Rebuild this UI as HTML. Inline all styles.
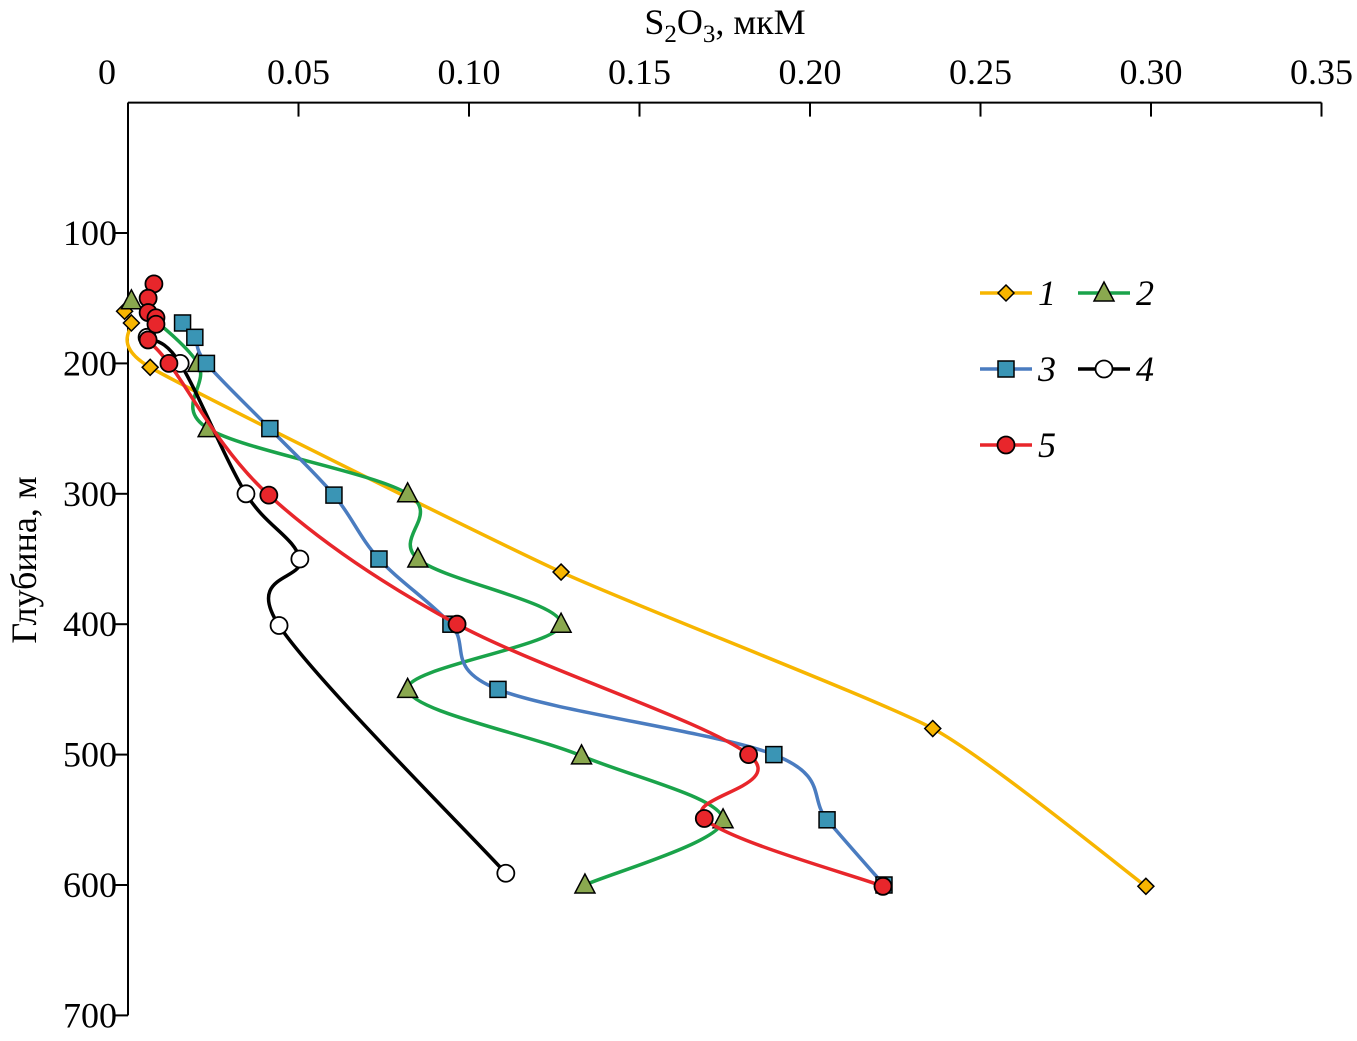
<!DOCTYPE html>
<html><head><meta charset="utf-8">
<style>
html,body{margin:0;padding:0;background:#fff;}
svg{display:block;font-family:"Liberation Serif","DejaVu Serif",serif;}
</style></head>
<body>
<svg id="chart" width="1357" height="1041" viewBox="0 0 1357 1041" xmlns="http://www.w3.org/2000/svg">
<g id="axes"></g>
<g id="series"></g>
<g id="legend"></g>
</svg>
<script>
const xTicks=[0,0.05,0.10,0.15,0.20,0.25,0.30,0.35];
const xTickLabels=["0","0.05","0.10","0.15","0.20","0.25","0.30","0.35"];
const yTicks=[100,200,300,400,500,600,700];
const yTickLabels=["100","200","300","400","500","600","700"];
const s1Depth=[160,169,203,360,480,601];
const s1Val=[-0.001,0.001,0.0065,0.127,0.236,0.2985];
const s2Depth=[152,200,250,300,350,400,450,501,550,600];
const s2Val=[0.001,0.0205,0.0235,0.082,0.085,0.127,0.082,0.133,0.1745,0.134];
const s3Depth=[169,180,200,250,301,350,400,450,500,550,600];
const s3Val=[0.016,0.0196,0.023,0.0416,0.0604,0.0736,0.0947,0.1085,0.1894,0.205,0.2217];
const s4Depth=[180,200,300,350,401,591];
const s4Val=[0.0056,0.0153,0.0346,0.0504,0.0443,0.1108];
const s5Depth=[139,150,161,165,170,182,200,301,400,500,549,601];
const s5Val=[0.0076,0.0059,0.0059,0.0082,0.0082,0.0059,0.012,0.0413,0.0965,0.182,0.169,0.2214];

const NS="http://www.w3.org/2000/svg";
const X0=128,XS=3410,Y0=102.6,YS=1.304;
const xS=v=>X0+v*XS, yS=d=>Y0+d*YS;
function mk(tag,attrs,parent){const e=document.createElementNS(NS,tag);for(const k in attrs)e.setAttribute(k,attrs[k]);parent.appendChild(e);return e;}
const axes=document.getElementById('axes');
let e=mk('line',{x1:X0,y1:Y0,x2:xS(0.35),y2:Y0,stroke:'#000','stroke-width':2},axes);


e=mk('line',{x1:X0,y1:Y0,x2:X0,y2:yS(700),stroke:'#000','stroke-width':2},axes);


xTicks.forEach((t,i)=>{
 const x=xS(t);
 let l=mk('line',{x1:x,y1:Y0,x2:x,y2:Y0+14,stroke:'#000','stroke-width':2},axes);
 
 
 let tx=mk('text',{x:i===0?107:x,y:84,'font-size':36,'text-anchor':'middle'},axes);
 tx.textContent=xTickLabels[i];
 
 
});
yTicks.forEach((t,i)=>{
 const y=yS(t);
 let l=mk('line',{x1:X0-14,y1:y,x2:X0,y2:y,stroke:'#000','stroke-width':2},axes);
 
 
 let tx=mk('text',{x:117,y:y+12,'font-size':36,'text-anchor':'end'},axes);
 tx.textContent=yTickLabels[i];
 
 
});
let xt=mk('text',{x:725,y:34,'font-size':36,'text-anchor':'middle'},axes);
xt.innerHTML='S<tspan font-size="25" dy="8">2</tspan><tspan dy="-8">O</tspan><tspan font-size="25" dy="8">3</tspan><tspan dy="-8">, мкМ</tspan>';


let yt=mk('text',{x:0,y:0,'font-size':36,'text-anchor':'middle',transform:'translate(36,560) rotate(-90)'},axes);
yt.textContent='Глубина, м';



function spline(pts,k){
 let d=`M${pts[0][0]},${pts[0][1]}`;
 for(let i=0;i<pts.length-1;i++){
  const p0=pts[i-1]||pts[i],p1=pts[i],p2=pts[i+1],p3=pts[i+2]||p2;
  const c1=[p1[0]+(p2[0]-p0[0])*k,p1[1]+(p2[1]-p0[1])*k];
  const c2=[p2[0]-(p3[0]-p1[0])*k,p2[1]-(p3[1]-p1[1])*k];
  d+=` C${c1[0]},${c1[1]} ${c2[0]},${c2[1]} ${p2[0]},${p2[1]}`;
 }
 return d;
}
function marker(type,x,y,fill,g){
 let m;
 if(type==='diamond')m=mk('polygon',{points:`${x},${y-8} ${x+8},${y} ${x},${y+8} ${x-8},${y}`,fill,stroke:'#000','stroke-width':1.5},g);
 else if(type==='tri')m=mk('polygon',{points:`${x},${y-11} ${x+10},${y+8} ${x-10},${y+8}`,fill,stroke:'#000','stroke-width':1.5},g);
 else if(type==='square')m=mk('rect',{x:x-8,y:y-8,width:16,height:16,fill,stroke:'#000','stroke-width':1.5},g);
 else m=mk('circle',{cx:x,cy:y,r:8.5,fill,stroke:'#000','stroke-width':1.8},g);
 return m;
}
const series=[
 {n:'1',d:s1Depth,v:s1Val,c:'#f7b500',m:'diamond',f:'#f7b500',k:0.09},
 {n:'2',d:s2Depth,v:s2Val,c:'#1aa34a',m:'tri',f:'#8aa84f',k:1/6},
 {n:'3',d:s3Depth,v:s3Val,c:'#4a7cc0',m:'square',f:'#3a95b5',k:1/6},
 {n:'4',d:s4Depth,v:s4Val,c:'#000',m:'circle',f:'#fff',k:1/6},
 {n:'5',d:s5Depth,v:s5Val,c:'#e8262b',m:'circle',f:'#e8262b',k:1/6}
];
const sg=document.getElementById('series');
series.forEach(s=>{
 const g=mk('g',{},sg);
 
 
 const pts=s.d.map((d,i)=>[xS(s.v[i]),yS(d)]);
 const p=mk('path',{d:spline(pts,s.k),fill:'none',stroke:s.c,'stroke-width':3.5},g);
 
 
 pts.forEach(pt=>{
  const m=marker(s.m,pt[0],pt[1],s.f,g);
  
  
 });
});
const lg=document.getElementById('legend');
const leg=[[0,980,293],[1,1078,293],[2,980,369],[3,1078,369],[4,980,445]];
leg.forEach(([i,x,y])=>{
 const s=series[i];
 const g=mk('g',{},lg);
 
 
 mk('line',{x1:x,y1:y,x2:x+52,y2:y,stroke:s.c,'stroke-width':3.5},g);
 marker(s.m,x+26,y,s.f,g);
 const t=mk('text',{x:x+58,y:y+12,'font-size':36,'font-style':'italic'},g);
 t.textContent=s.n;
});
</script>
</body></html>
